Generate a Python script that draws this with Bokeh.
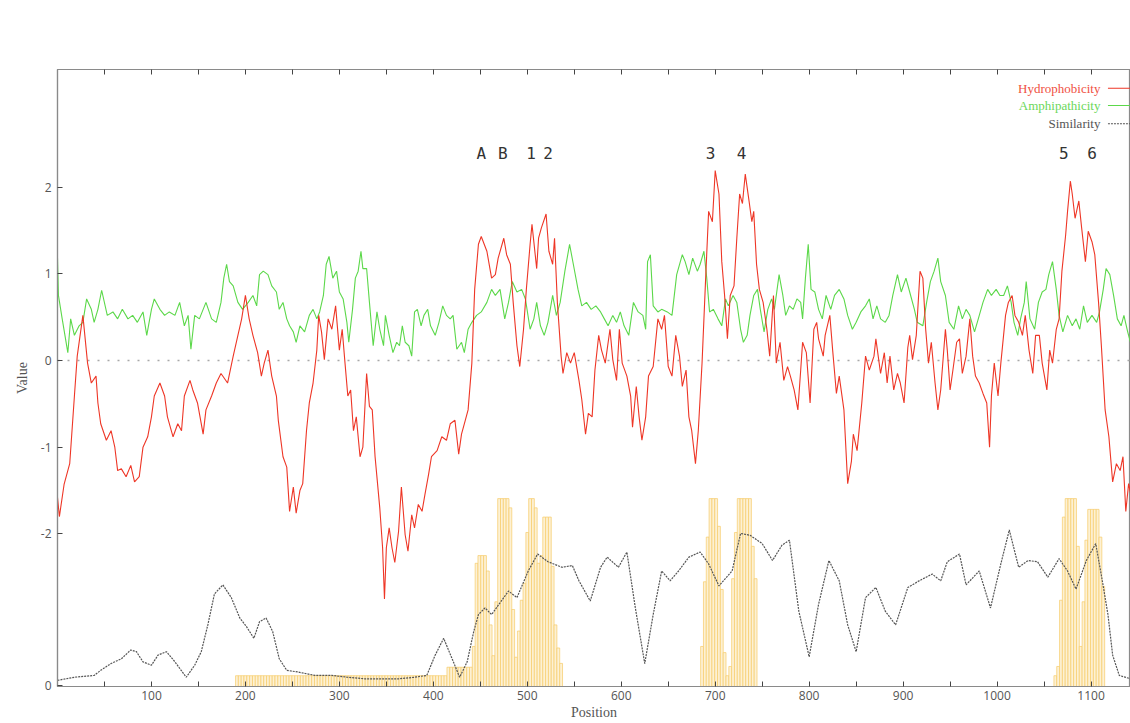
from bokeh.plotting import figure
from bokeh.models import (Range1d, LinearAxis, FixedTicker, CustomJSTickFormatter, Span, Label)
from bokeh.core.properties import value
from bokeh.embed import file_html
from bokeh.resources import INLINE

# ---------------- data ----------------
hydro_pos = [0, 2, 7, 13, 18, 21, 27, 32, 36, 41, 43, 46, 52, 57, 61, 64, 68, 73, 78, 82, 87, 91, 96, 100,
             103, 109, 114, 117, 123, 128, 132, 135, 141, 144, 149, 155, 158, 164, 169, 174, 181, 187, 192,
             196, 200, 204, 208, 213, 217, 220, 224, 228, 233, 235, 240, 244, 247, 251, 254, 258, 261, 265,
             268, 272, 276, 278, 281, 284, 288, 292, 296, 300, 303, 306, 309, 312, 315, 318, 322, 325, 329,
             332, 335, 338, 343, 346, 348, 350, 353, 356, 359, 363, 366, 370, 373, 377, 380, 384, 388, 391,
             395, 398, 404, 409, 414, 418, 423, 427, 430, 434, 437, 441, 444, 448, 451, 457, 462, 466, 469,
             475, 478, 482, 485, 489, 492, 496, 499, 503, 505, 510, 512, 515, 520, 523, 527, 529, 532, 536,
             538, 542, 546, 550, 555, 558, 562, 565, 569, 572, 576, 579, 583, 588, 591, 595, 598, 601, 606,
             610, 612, 616, 619, 622, 626, 629, 634, 639, 643, 646, 650, 654, 658, 662, 665, 669, 672, 675,
             679, 682, 686, 690, 693, 697, 700, 704, 707, 710, 713, 716, 720, 723, 726, 729, 732, 736, 739,
             741, 744, 747, 751, 755, 758, 762, 765, 769, 773, 777, 780, 784, 788, 791, 793, 797, 801, 805,
             808, 810, 815, 817, 822, 825, 829, 832, 837, 841, 845, 847, 851, 856, 860, 864, 869, 871, 876,
             880, 883, 886, 890, 894, 897, 901, 905, 907, 910, 914, 918, 921, 924, 927, 930, 934, 937, 940,
             945, 947, 950, 953, 957, 960, 963, 967, 971, 974, 977, 981, 985, 989, 992, 994, 997, 1001, 1004,
             1009, 1012, 1016, 1019, 1023, 1027, 1030, 1034, 1038, 1041, 1045, 1048, 1053, 1056, 1059, 1063,
             1066, 1069, 1073, 1075, 1078, 1080, 1083, 1087, 1090, 1094, 1097, 1101, 1104, 1108, 1111, 1115,
             1119, 1123, 1127, 1131, 1134, 1137, 1140, 1143]
hydro_val = [-1.58, -1.80, -1.43, -1.19, -0.41, 0.05, 0.52, -0.03, -0.26, -0.18, -0.49, -0.73, -0.92, -0.81,
             -1.00, -1.27, -1.25, -1.34, -1.21, -1.40, -1.34, -1.00, -0.88, -0.65, -0.41, -0.26, -0.41, -0.65,
             -0.88, -0.73, -0.81, -0.41, -0.23, -0.34, -0.49, -0.85, -0.57, -0.41, -0.26, -0.15, -0.26, 0.05,
             0.29, 0.48, 0.75, 0.48, 0.29, 0.09, -0.18, -0.03, 0.12, -0.18, -0.41, -0.69, -1.11, -1.23, -1.74,
             -1.46, -1.76, -1.50, -1.42, -0.81, -0.49, -0.26, 0.12, 0.52, 0.33, 0.01, 0.48, 0.36, 0.63, 0.12,
             0.36, -0.03, -0.41, -0.34, -0.81, -0.65, -1.11, -1.00, -0.15, -0.53, -0.57, -1.11, -1.70, -2.16,
             -2.75, -2.16, -1.93, -2.16, -2.33, -1.97, -1.46, -2.01, -2.20, -1.78, -1.93, -1.66, -1.74, -1.55,
             -1.31, -1.11, -1.04, -0.88, -0.92, -0.73, -0.69, -1.08, -0.85, -0.69, -0.57, -0.03, 0.82, 1.34,
             1.43, 1.26, 0.95, 0.99, 1.18, 1.41, 1.22, 1.11, 0.67, 0.17, -0.07, 0.36, 0.82, 1.34, 1.57, 1.06,
             1.41, 1.53, 1.69, 1.26, 1.11, 1.41, 0.67, 0.05, -0.15, 0.09, -0.03, 0.09, -0.23, -0.45, -0.85,
             -0.61, -0.65, -0.11, 0.29, 0.12, -0.03, 0.36, 0.01, -0.23, 0.36, -0.03, -0.18, -0.41, -0.77,
             -0.30, -0.65, -0.92, -0.65, -0.18, -0.07, 0.48, 0.36, 0.52, -0.07, -0.18, 0.29, 0.05, -0.30,
             -0.11, -0.65, -0.81, -1.19, -0.81, -0.03, 0.99, 1.72, 1.60, 2.19, 1.92, 1.14, 0.75, 0.25, 0.75,
             0.86, 1.41, 1.92, 1.81, 2.15, 1.84, 1.60, 1.72, 1.11, 0.82, 0.67, 0.36, 0.05, 0.75, -0.03, 0.21,
             -0.23, -0.07, -0.18, -0.34, -0.57, -0.11, 0.21, 0.09, -0.49, 0.36, 0.44, 0.25, 0.05, 0.29, 0.52,
             0.12, -0.38, -0.18, -0.57, -1.42, -1.16, -0.85, -1.04, -0.49, 0.05, -0.11, 0.05, 0.25, -0.15,
             0.09, -0.26, 0.05, -0.34, -0.15, -0.26, -0.49, 0.15, 0.29, 0.01, 0.29, 1.03, 0.95, 0.36, -0.03,
             0.21, -0.26, -0.57, -0.34, 0.36, 0.12, -0.34, -0.11, 0.21, 0.25, -0.15, 0.05, 0.48, 0.05, -0.18,
             -0.26, -0.38, -0.49, -1.00, -0.41, -0.03, -0.41, -0.03, 0.52, 0.67, 0.75, 0.52, 0.44, 0.29, 0.52,
             0.12, -0.15, 0.29, 0.29, -0.03, -0.34, 0.12, -0.03, 0.36, 0.48, 1.03, 1.45, 1.72, 2.07, 1.92,
             1.64, 1.84, 1.53, 1.14, 1.49, 1.37, 1.22, 0.67, 0.17, -0.57, -0.88, -1.40, -1.19, -1.27, -1.11,
             -1.74, -1.42, -1.58]

amph_pos = [0, 1, 5, 11, 14, 18, 23, 27, 31, 36, 39, 43, 47, 53, 59, 64, 69, 75, 80, 85, 91, 95, 100, 103,
            109, 114, 119, 125, 130, 135, 139, 142, 146, 151, 158, 164, 169, 174, 177, 180, 183, 187, 192,
            197, 203, 208, 212, 215, 219, 224, 228, 233, 236, 240, 244, 247, 251, 254, 258, 263, 268, 272,
            276, 279, 283, 286, 289, 293, 297, 300, 304, 308, 310, 314, 317, 320, 323, 325, 329, 332, 336,
            340, 343, 347, 349, 353, 357, 361, 364, 367, 370, 374, 377, 380, 383, 387, 390, 394, 397, 402,
            406, 410, 414, 418, 421, 425, 430, 433, 437, 441, 446, 451, 457, 462, 466, 471, 476, 480, 484,
            489, 494, 498, 503, 507, 510, 514, 518, 522, 527, 531, 535, 540, 545, 549, 554, 558, 563, 568,
            573, 578, 582, 586, 591, 595, 599, 603, 608, 613, 618, 623, 626, 628, 631, 634, 639, 643, 649,
            654, 659, 665, 668, 672, 676, 681, 684, 688, 691, 694, 698, 703, 707, 711, 714, 719, 723, 727,
            730, 734, 737, 741, 745, 748, 752, 756, 760, 763, 768, 772, 775, 779, 783, 787, 791, 793, 796,
            799, 802, 806, 810, 814, 818, 823, 827, 832, 837, 841, 846, 850, 855, 860, 864, 868, 872, 876,
            881, 885, 889, 894, 898, 903, 907, 912, 915, 921, 925, 929, 933, 937, 940, 945, 949, 954, 959,
            963, 967, 971, 976, 980, 985, 990, 994, 999, 1003, 1007, 1011, 1015, 1018, 1022, 1025, 1029,
            1031, 1035, 1040, 1044, 1048, 1052, 1055, 1059, 1063, 1066, 1070, 1075, 1080, 1084, 1088, 1092,
            1096, 1101, 1106, 1109, 1113, 1116, 1120, 1124, 1128, 1132, 1135, 1139, 1142]
amph_val = [1.18, 0.75, 0.48, 0.09, 0.48, 0.29, 0.40, 0.44, 0.71, 0.59, 0.44, 0.59, 0.81, 0.52, 0.56, 0.48,
            0.59, 0.48, 0.52, 0.44, 0.56, 0.29, 0.59, 0.71, 0.59, 0.52, 0.56, 0.52, 0.67, 0.40, 0.52, 0.13,
            0.52, 0.48, 0.67, 0.48, 0.44, 0.67, 0.95, 1.11, 0.91, 0.86, 0.67, 0.59, 0.67, 0.75, 0.63, 0.99,
            1.03, 0.99, 0.86, 0.79, 0.59, 0.67, 0.48, 0.40, 0.33, 0.21, 0.40, 0.33, 0.52, 0.59, 0.48, 0.56,
            0.75, 1.11, 1.20, 0.95, 1.03, 0.79, 0.71, 0.44, 0.21, 0.59, 0.95, 1.03, 1.26, 1.06, 1.06, 0.67,
            0.17, 0.56, 0.36, 0.17, 0.52, 0.29, 0.09, 0.21, 0.17, 0.40, 0.21, 0.17, 0.05, 0.56, 0.59, 0.40,
            0.52, 0.59, 0.40, 0.29, 0.44, 0.63, 0.52, 0.48, 0.52, 0.13, 0.21, 0.09, 0.36, 0.44, 0.52, 0.56,
            0.67, 0.82, 0.75, 0.82, 0.48, 0.67, 0.91, 0.79, 0.82, 0.71, 0.36, 0.48, 0.67, 0.40, 0.29, 0.44,
            0.75, 0.52, 0.67, 1.03, 1.34, 1.11, 0.82, 0.63, 0.67, 0.59, 0.63, 0.56, 0.48, 0.40, 0.52, 0.44,
            0.56, 0.40, 0.29, 0.67, 0.56, 0.52, 0.36, 1.14, 1.22, 0.63, 0.56, 0.59, 0.56, 0.52, 0.99, 1.22,
            1.14, 0.99, 1.18, 1.03, 1.11, 1.26, 0.95, 0.56, 0.59, 0.48, 0.40, 0.71, 0.63, 0.75, 0.67, 0.36,
            0.21, 0.29, 0.52, 0.75, 0.82, 0.59, 0.33, 0.59, 0.71, 0.59, 0.99, 0.75, 0.52, 0.63, 0.59, 0.71,
            0.67, 0.48, 0.95, 1.34, 0.82, 0.79, 0.59, 0.48, 0.75, 0.59, 0.75, 0.82, 0.71, 0.52, 0.36, 0.44,
            0.56, 0.63, 0.71, 0.48, 0.63, 0.48, 0.44, 0.52, 0.75, 0.99, 0.79, 0.95, 0.79, 0.59, 0.44, 0.40,
            0.67, 0.91, 1.03, 1.18, 0.91, 0.75, 0.44, 0.36, 0.63, 0.48, 0.59, 0.52, 0.33, 0.48, 0.67, 0.82,
            0.75, 0.82, 0.75, 0.75, 0.86, 0.67, 0.44, 0.29, 0.48, 0.67, 0.91, 0.48, 0.36, 0.67, 0.79, 0.82,
            0.99, 1.14, 0.82, 0.52, 0.33, 0.52, 0.40, 0.48, 0.36, 0.63, 0.44, 0.52, 0.44, 0.56, 0.82, 1.06,
            0.99, 0.75, 0.48, 0.40, 0.52, 0.33, 0.21]

sim_pos = [0, 18, 39, 46, 57, 68, 78, 84, 91, 100, 107, 116, 125, 137, 146, 153, 160, 167, 176, 185, 194,
           201, 209, 215, 222, 229, 236, 244, 256, 274, 292, 309, 327, 345, 363, 380, 393, 402, 411, 420,
           428, 436, 443, 448, 455, 462, 480, 489, 501, 511, 522, 537, 548, 555, 567, 578, 585, 597, 606,
           615, 625, 634, 643, 652, 661, 672, 684, 693, 704, 718, 727, 737, 750, 761, 771, 779, 789, 800,
           810, 821, 832, 841, 850, 860, 871, 881, 892, 905, 917, 931, 940, 947, 960, 967, 981, 993, 1004,
           1013, 1023, 1033, 1043, 1054, 1066, 1075, 1084, 1095, 1105, 1112, 1118, 1123, 1130, 1142]
sim_val = [0.04, 0.06, 0.072, 0.105, 0.149, 0.18, 0.237, 0.226, 0.16, 0.138, 0.204, 0.226, 0.16, 0.06, 0.138,
           0.226, 0.40, 0.60, 0.66, 0.577, 0.445, 0.39, 0.313, 0.42, 0.445, 0.357, 0.18, 0.105, 0.094, 0.072,
           0.072, 0.06, 0.05, 0.05, 0.05, 0.06, 0.072, 0.204, 0.313, 0.18, 0.06, 0.16, 0.357, 0.467, 0.51,
           0.467, 0.62, 0.577, 0.75, 0.86, 0.81, 0.774, 0.785, 0.686, 0.555, 0.774, 0.84, 0.774, 0.873, 0.51,
           0.149, 0.467, 0.75, 0.686, 0.75, 0.84, 0.873, 0.796, 0.653, 0.75, 0.994, 0.982, 0.928, 0.818,
           0.917, 0.95, 0.489, 0.193, 0.533, 0.818, 0.686, 0.40, 0.226, 0.577, 0.643, 0.489, 0.40, 0.643,
           0.686, 0.73, 0.686, 0.81, 0.86, 0.66, 0.75, 0.51, 0.796, 1.016, 0.774, 0.818, 0.81, 0.71, 0.83,
           0.75, 0.632, 0.818, 0.928, 0.686, 0.467, 0.204, 0.072, 0.05]

# window bars: low runs (start, end, height) and the three clusters
bar_runs = [(191, 413, 0.07), (416, 440, 0.125)]
bar_pos_a = [443, 446, 449, 452, 455, 458, 461, 464, 467, 470, 473, 476, 479, 482, 485, 488, 491, 494, 497,
             500, 503, 506, 509, 512, 515, 518, 521, 524, 527, 530, 533, 536]
bar_h_a = [0.26, 0.80, 0.85, 0.85, 0.85, 0.75, 0.40, 0.20, 0.55, 1.22, 1.22, 1.22, 1.22, 1.16, 0.50, 0.19,
           0.36, 0.56, 0.67, 1.00, 1.22, 1.22, 1.16, 0.80, 0.85, 1.10, 1.10, 1.10, 0.78, 0.40, 0.25, 0.15]
bar_pos_b = [686, 689, 692, 695, 698, 701, 704, 707, 710, 713, 716, 719, 722, 725, 728, 731, 734, 737, 740, 743]
bar_h_b = [0.26, 0.68, 0.97, 1.22, 1.22, 1.22, 1.04, 0.63, 0.22, 0.07, 0.13, 0.70, 1.00, 1.22, 1.22, 1.22,
           1.22, 1.22, 0.91, 0.70]
bar_pos_c = [1062, 1065, 1068, 1071, 1074, 1077, 1080, 1083, 1086, 1089, 1092, 1095, 1098, 1101, 1104, 1107,
             1110, 1113]
bar_h_c = [0.07, 0.13, 0.56, 1.10, 1.22, 1.22, 1.22, 1.22, 0.91, 0.26, 0.55, 0.95, 1.15, 1.15, 1.15, 1.15,
           0.97, 0.65]

label_text = ["A", "B", "1", "2", "3", "4", "5", "6"]
label_pos = [451, 474, 504, 522, 695, 728, 1071, 1101]
label_level = 2.39

legend_names = ["Hydrophobicity", "Amphipathicity", "Similarity"]
legend_y = [3.14, 2.94, 2.73]

x_major_ticks = [100, 200, 300, 400, 500, 600, 700, 800, 900, 1000, 1100]
x_minor_ticks = [50, 150, 250, 350, 450, 550, 650, 750, 850, 950, 1050]
y_ticks = [-3.75, -2, -1, 0, 1, 2]

# ---------------- figure ----------------
RED = "#EE3626"
GREEN = "#5CD84A"
SIMC = "#555555"
AXC = "#8a8a8a"

p = figure(width=1130, height=723, output_backend="svg", toolbar_location=None,
           x_range=Range1d(0, 1142), y_range=Range1d(-3.76, 3.356),
           min_border_left=57, min_border_right=0, min_border_top=69, min_border_bottom=37,
           x_axis_label="Position", y_axis_label="Value")
p.extra_y_ranges = {"sim": Range1d(0, 4.006)}
p.grid.visible = False
p.outline_line_color = AXC
p.outline_line_width = 1.2
p.background_fill_color = "white"
p.border_fill_color = "white"

p.xaxis.ticker = FixedTicker(ticks=x_major_ticks, minor_ticks=x_minor_ticks)
p.yaxis.ticker = FixedTicker(ticks=y_ticks, minor_ticks=[])
p.yaxis.formatter = CustomJSTickFormatter(code="return tick < -3 ? '0' : tick.toFixed(0);")

for ax in (p.xaxis[0], p.yaxis[0]):
    ax.axis_line_color = AXC
    ax.axis_line_width = 1.2
    ax.major_tick_line_color = "#444444"
    ax.minor_tick_line_color = "#444444"
    ax.major_tick_in = 5
    ax.major_tick_out = 0
    ax.minor_tick_in = 5
    ax.minor_tick_out = 0
    ax.major_label_text_font = "Open Sans"
    ax.major_label_text_font_size = "12px"
    ax.major_label_text_color = "#555555"
    ax.axis_label_text_font = "Liberation Serif"
    ax.axis_label_text_font_size = "14px"
    ax.axis_label_text_font_style = "normal"
    ax.axis_label_text_color = "#555555"
p.xaxis.major_label_standoff = 4
p.xaxis.axis_label_standoff = 2
p.yaxis.major_label_standoff = 6
p.yaxis.axis_label_standoff = 8

# mirrored ticks on the top border (minor-only ticker -> no labels)
top = LinearAxis(ticker=FixedTicker(ticks=[], minor_ticks=x_major_ticks + x_minor_ticks),
                 axis_line_color=AXC, axis_line_width=1.2,
                 major_tick_in=0, major_tick_out=0, minor_tick_in=5, minor_tick_out=0,
                 minor_tick_line_color="#444444")
p.add_layout(top, "above")

p.add_layout(Span(location=0, dimension="width", line_color="#a8a8a8", line_dash="2 8",
                  line_width=1.5, level="underlay"))

# bars
BAR_FILL = "#FDF1D4"
BAR_LINE = "#F6CC68"
for (s, e, h) in bar_runs:
    xs = list(range(s, e + 1, 3))
    p.vbar(x=xs, top=[h] * len(xs), bottom=0, width=3, y_range_name="sim",
           fill_color=BAR_FILL, line_color=BAR_LINE, line_width=0.7)
for xs, hs in ((bar_pos_a, bar_h_a), (bar_pos_b, bar_h_b), (bar_pos_c, bar_h_c)):
    p.vbar(x=xs, top=hs, bottom=0, width=3, y_range_name="sim",
           fill_color=BAR_FILL, line_color=BAR_LINE, line_width=0.7)

# similarity
p.line(sim_pos, sim_val, y_range_name="sim", line_color=SIMC, line_dash="2 1", line_width=1.2)
# amphipathicity / hydrophobicity
p.line(amph_pos, amph_val, line_color=GREEN, line_width=1.1)
p.line(hydro_pos, hydro_val, line_color=RED, line_width=1.1)

# peak labels
p.text(x=label_pos, y=[label_level] * len(label_pos), text=label_text,
       text_font=value("DejaVu Sans Mono"), text_font_size="16px", text_color="#333333",
       text_align="center", text_baseline="middle")

# legend (gnuplot style: text then sample)
leg_colors = ["#F0503F", "#6BD75A", "#555555"]
for name, yy, c in zip(legend_names, legend_y, leg_colors):
    p.add_layout(Label(x=1110, y=yy, text=name, text_align="right", text_baseline="middle",
                       text_color=c, text_font="Liberation Serif", text_font_size="13px"))
p.segment(x0=[1118] * 2, x1=[1160] * 2, y0=legend_y[:2], y1=legend_y[:2],
          line_color=[RED, GREEN], line_width=1.1)
p.segment(x0=[1118], x1=[1160], y0=legend_y[2:], y1=legend_y[2:],
          line_color=SIMC, line_dash="2 1", line_width=1.1)

open("out.html", "w").write(file_html(p, INLINE))
